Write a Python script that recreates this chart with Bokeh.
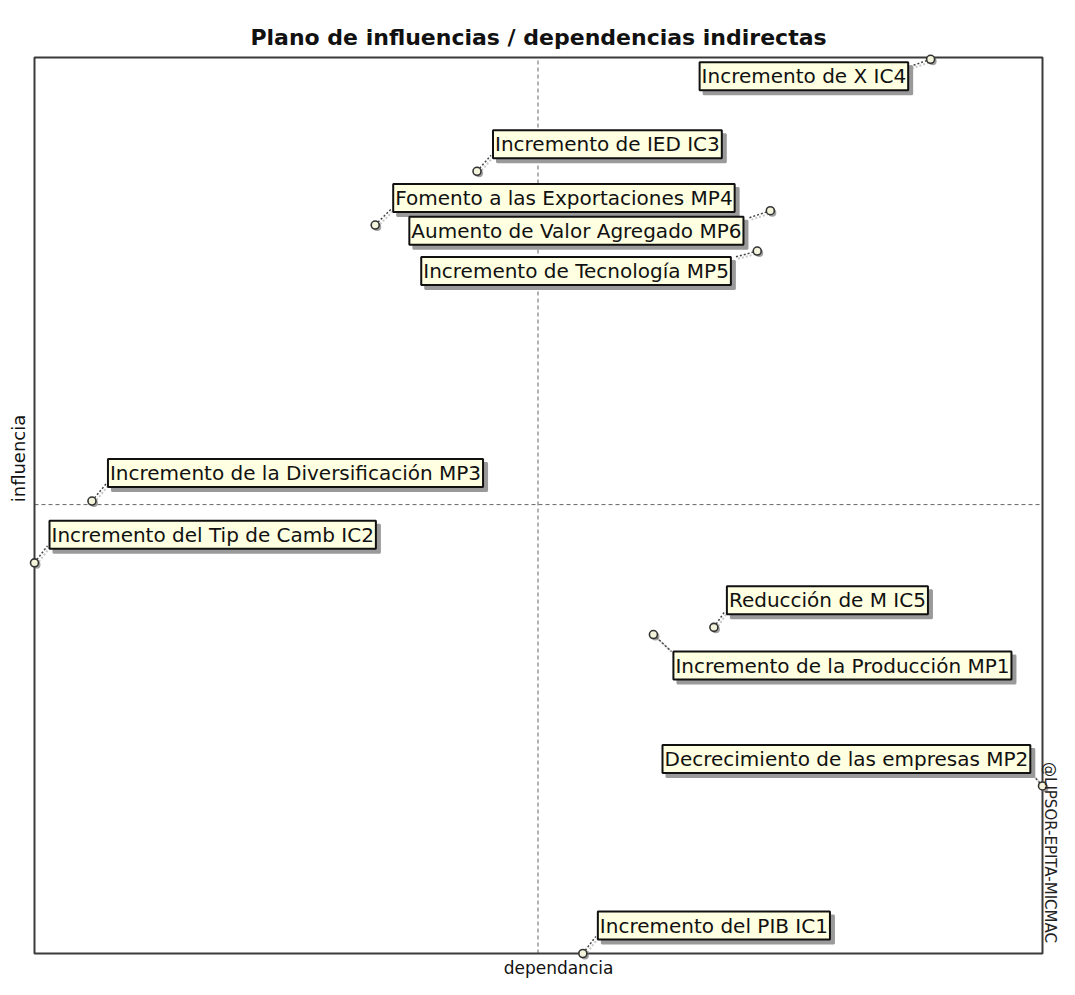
import math
from bokeh.plotting import figure
from bokeh.models import Label, Range1d
from bokeh.embed import file_html
from bokeh.resources import INLINE

# ---- data (both axes scaled 0-100) ----
variables = [
    "Incremento del PIB IC1",
    "Incremento del Tip de Camb IC2",
    "Incremento de IED IC3",
    "Incremento de X IC4",
    "Reducción de M IC5",
    "Incremento de la Producción MP1",
    "Decrecimiento de las empresas MP2",
    "Incremento de la Diversificación MP3",
    "Fomento a las Exportaciones MP4",
    "Incremento de Tecnología MP5",
    "Aumento de Valor Agregado MP6",
]
dependencia = [54.4, 0.0, 43.9, 88.9, 67.4, 61.4, 100.0, 5.7, 33.8, 71.7, 73.0]
influencia = [0.0, 43.6, 87.3, 99.8, 36.4, 35.6, 18.7, 50.5, 81.3, 78.4, 82.9]
media_dependencia = 49.95
media_influencia = 50.1
dep_min, dep_max = 0.0, 100.0
inf_min, inf_max = 0.0, 100.0

titulo = "Plano de influencias / dependencias indirectas"
eje_x = "dependancia"
eje_y = "influencia"
firma = "@LIPSOR-EPITA-MICMAC"

# ---- layout (pixels) ----
W, H = 1059, 979
BOX_L, BOX_R, BOX_T, BOX_B = 34, 1042, 57, 953   # drawn plot box
BW, BH = BOX_R - BOX_L, BOX_B - BOX_T
sx = 100.0 / BW   # data units per px
sy = 100.0 / BH

def X(px):
    return (px - BOX_L) * sx

def Y(py):
    return (BOX_B - py) * sy

# label box top-left offsets and leader end offsets relative to the point (px, +down)
box_off = [(13, -44), (13, -44), (14, -43), (-233, 1), (11, -43), (18, 15),
           (-382, -43), (14, -44), (16, -43), (-338, 4), (-363, 4)]
lead_off = [(13, -17), (13, -17), (14, -16), (-26, 9), (11, -16), (18, 17),
            (-14, -16), (14, -17), (16, -16), (-22, 6), (-21, 7)]

# the frame covers the whole canvas so that no text is clipped
p = figure(width=W, height=H, frame_width=W, frame_height=H,
           x_range=Range1d(X(0), X(W)), y_range=Range1d(Y(H), Y(0)),
           x_axis_location=None, y_axis_location=None, title=None,
           toolbar_location=None, output_backend="svg",
           min_border_left=0, min_border_right=0, min_border_top=0, min_border_bottom=0)
p.xgrid.visible = False
p.ygrid.visible = False
p.outline_line_color = None
p.background_fill_color = "white"
p.border_fill_color = "white"

# mean lines (dashed)
p.segment(x0=[media_dependencia, dep_min], y0=[inf_min, media_influencia],
          x1=[media_dependencia, dep_max], y1=[inf_max, media_influencia],
          line_color="#666666", line_dash="4 3", line_width=1)

# plot box
p.quad(left=[dep_min], right=[dep_max], bottom=[inf_min], top=[inf_max],
       fill_alpha=0, line_color="#3a3a3a", line_width=2)

# leader lines
x1 = [d + lo[0] * sx for d, lo in zip(dependencia, lead_off)]
y1 = [i - lo[1] * sy for i, lo in zip(influencia, lead_off)]
p.segment(x0=[d + 2 * sx for d in dependencia], y0=[i - 2 * sy for i in influencia],
          x1=[x + 2 * sx for x in x1], y1=[y - 2 * sy for y in y1],
          line_color="#c8c8c8", line_width=2, line_dash="2 2")
p.segment(x0=dependencia, y0=influencia, x1=x1, y1=y1,
          line_color="#444444", line_width=1.5, line_dash="2 2")

# points
p.scatter(x=[d + 2 * sx for d in dependencia], y=[i - 2 * sy for i in influencia],
          size=8, fill_color="#777777", fill_alpha=0.7, line_alpha=0)
p.scatter(x=dependencia, y=influencia, size=8, fill_color="#f4f4dc",
          line_color="#333333", line_width=1.6)

FONT = "DejaVu Sans"
PAD = 2
for name, d, i, bo in zip(variables, dependencia, influencia, box_off):
    lx = d + (bo[0] + PAD) * sx
    ly = i - (bo[1] + PAD) * sy
    p.add_layout(Label(x=lx + 4 * sx, y=ly - 4 * sy, text=name, text_font=FONT,
                       text_font_size="20px", text_align="left", text_baseline="top",
                       text_color="#9a9a9a", background_fill_color="#9a9a9a",
                       border_line_color="#9a9a9a", border_line_width=2, padding=PAD))
for name, d, i, bo in zip(variables, dependencia, influencia, box_off):
    lx = d + (bo[0] + PAD) * sx
    ly = i - (bo[1] + PAD) * sy
    p.add_layout(Label(x=lx, y=ly, text=name, text_font=FONT,
                       text_font_size="20px", text_align="left", text_baseline="top",
                       text_color="#111111", background_fill_color="#FFFFE1",
                       border_line_color="#111111", border_line_width=2, padding=PAD))

# title and axis texts
p.add_layout(Label(x=X((BOX_L + BOX_R) / 2), y=Y(37), text=titulo, text_font=FONT,
                   text_font_style="bold", text_font_size="22px", text_align="center",
                   text_baseline="alphabetic", text_color="#111111"))
p.add_layout(Label(x=X(558), y=Y(BOX_B + 14), text=eje_x, text_font=FONT,
                   text_font_size="17px", text_align="center",
                   text_baseline="alphabetic", text_color="#111111"))
p.add_layout(Label(x=X(18), y=Y(458), text=eje_y, text_font=FONT,
                   text_font_size="18px", text_align="center", angle=math.pi / 2,
                   text_baseline="middle", text_color="#111111"))
p.add_layout(Label(x=X(1049), y=Y(852), text=firma, text_font=FONT,
                   text_font_size="15px", text_align="center", angle=-math.pi / 2,
                   text_baseline="middle", text_color="#222222"))

open("out.html", "w").write(file_html(p, INLINE))
